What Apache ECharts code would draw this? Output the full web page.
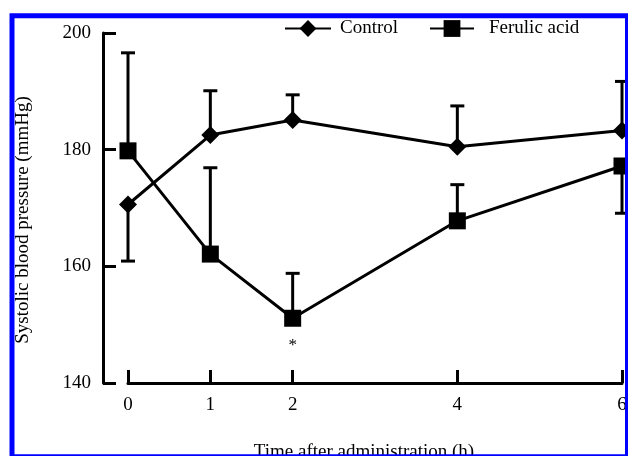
<!DOCTYPE html>
<html>
<head>
<meta charset="utf-8">
<script src="https://cdn.jsdelivr.net/npm/echarts@6/dist/echarts.min.js"></script>
<style>
  html, body { margin: 0; padding: 0; background: #ffffff; }
  #chart { width: 628px; height: 456px; }
</style>
</head>
<body>
<div id="chart"></div>
<script>
// ---- data ----
const timePoints = [0, 1, 2, 4, 6];            // h
const xTickValues = [0, 1, 2, 4, 6];
const yTickValues = [140, 160, 180, 200];
const controlMean = [170.6, 182.5, 185.1, 180.5, 183.3];
const controlSD   = [9.7, 7.6, 4.3, 7.0, 8.4];
const controlDir  = [-1, 1, 1, 1, 1];           // error bar drawn down (-1) or up (1)
const ferulicMean = [179.8, 162.1, 151.1, 167.8, 177.2];
const ferulicSD   = [16.8, 14.8, 7.7, 6.2, 8.1];
const ferulicDir  = [1, 1, 1, 1, -1];
const ferulicNote = ['', '', '*', '', ''];
const seriesNames = ['Control', 'Ferulic acid'];
const xName = 'Time after administration (h)';
const yName = 'Systolic blood pressure (mmHg)';

const FONT = '"Liberation Serif", "Times New Roman", serif';

function lineData(means) {
  return timePoints.map((t, i) => [t, means[i]]);
}
function errData(means, sds, dirs) {
  return timePoints.map((t, i) => [t, means[i], means[i] + dirs[i] * sds[i]]);
}
function renderErr(params, api) {
  const x = api.value(0), m = api.value(1), e = api.value(2);
  const p0 = api.coord([x, m]);
  const p1 = api.coord([x, e]);
  const hw = 7;
  const st = { stroke: '#000', lineWidth: 3 };
  return {
    type: 'group',
    children: [
      { type: 'line', shape: { x1: p0[0], y1: p0[1], x2: p1[0], y2: p1[1] }, style: st },
      { type: 'line', shape: { x1: p1[0] - hw, y1: p1[1], x2: p1[0] + hw, y2: p1[1] }, style: st }
    ]
  };
}

const chart = echarts.init(document.getElementById('chart'), null, { renderer: 'canvas' });
chart.setOption({
  backgroundColor: '#ffffff',
  animation: false,
  textStyle: { fontFamily: FONT, color: '#000' },
  legend: [
    {
      data: [seriesNames[0]], left: 284, top: 19, padding: 0,
      itemWidth: 46, itemHeight: 21, itemGap: 0,
      textStyle: { fontFamily: FONT, fontSize: 19, color: '#000', padding: [0, 0, 0, 4] }
    },
    {
      data: [seriesNames[1]], left: 429, top: 19, padding: 0,
      itemWidth: 44, itemHeight: 21, itemGap: 0,
      textStyle: { fontFamily: FONT, fontSize: 19, color: '#000', padding: [0, 0, 0, 10] }
    }
  ],
  grid: { left: 128, right: 6, top: 33, bottom: 73, containLabel: false, outerBoundsMode: 'none' },
  xAxis: {
    type: 'value', min: 0, max: 6, interval: 1,
    name: xName, nameLocation: 'middle', nameGap: 60,
    nameTextStyle: { fontFamily: FONT, fontSize: 19, color: '#000', padding: [0, 22, 0, 0] },
    axisLine: { show: true, onZero: false, lineStyle: { color: '#000', width: 3 } },
    axisTick: { show: true, inside: true, length: 13, customValues: xTickValues, lineStyle: { color: '#000', width: 3 } },
    axisLabel: { margin: 13, fontFamily: FONT, fontSize: 19, color: '#000', customValues: xTickValues },
    splitLine: { show: false }
  },
  yAxis: {
    type: 'value', min: 140, max: 200, interval: 20, offset: 25,
    name: yName, nameLocation: 'middle', nameGap: 70,
    nameTextStyle: { fontFamily: FONT, fontSize: 19, color: '#000', padding: [0, 24, 0, 0] },
    axisLine: { show: true, onZero: false, lineStyle: { color: '#000', width: 3 } },
    axisTick: { show: true, inside: true, length: 13, lineStyle: { color: '#000', width: 3 } },
    axisLabel: { margin: 12, fontFamily: FONT, fontSize: 19, color: '#000' },
    splitLine: { show: false }
  },
  series: [
    {
      name: seriesNames[0], type: 'line', data: lineData(controlMean),
      symbol: 'diamond', symbolSize: 18,
      lineStyle: { color: '#000', width: 3 },
      itemStyle: { color: '#000' }, z: 3
    },
    {
      name: seriesNames[1], type: 'line', data: lineData(ferulicMean),
      symbol: 'rect', symbolSize: 17,
      lineStyle: { color: '#000', width: 3 },
      itemStyle: { color: '#000' }, z: 3,
      label: {
        show: true, position: 'bottom', distance: 10,
        fontFamily: FONT, fontSize: 17, color: '#000',
        formatter: p => ferulicNote[p.dataIndex]
      }
    },
    { type: 'custom', data: errData(controlMean, controlSD, controlDir), renderItem: renderErr, z: 2 },
    { type: 'custom', data: errData(ferulicMean, ferulicSD, ferulicDir), renderItem: renderErr, z: 2 }
  ],
  graphic: [
    {
      type: 'rect', z: 100, silent: true,
      shape: { x: 12, y: 15.8, width: 615.5, height: 441 },
      style: { fill: null, stroke: '#0000ff', lineWidth: 5 }
    }
  ]
});
</script>
</body>
</html>
